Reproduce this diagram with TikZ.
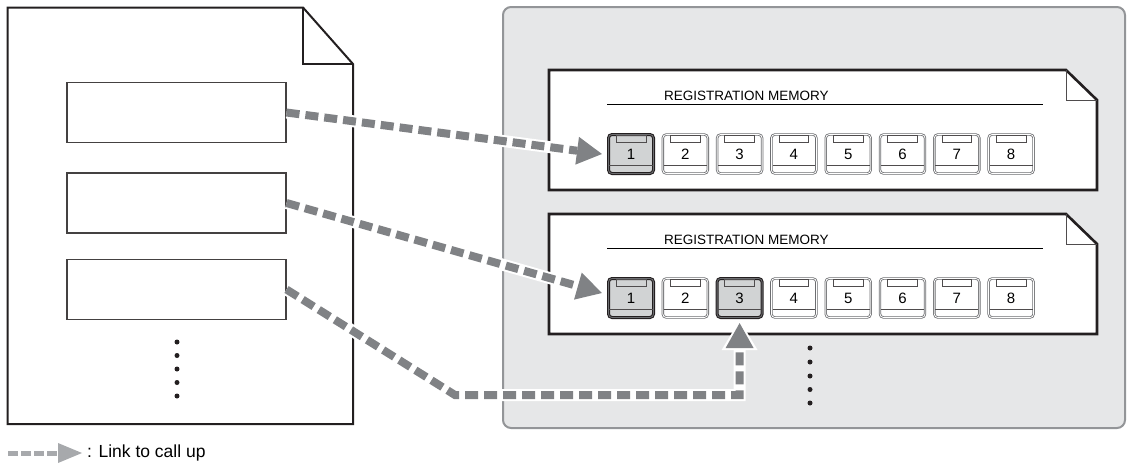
\documentclass[tikz,border=0pt]{standalone}
\usepackage{fontspec}
\setmainfont{Liberation Sans}
\usetikzlibrary{arrows.meta}

\definecolor{ink}{HTML}{231F20}
\definecolor{linkgrey}{HTML}{808285}
\definecolor{legendgrey}{HTML}{A7A9AC}
\definecolor{panelfill}{HTML}{E6E7E8}
\definecolor{paneledge}{HTML}{939598}
\definecolor{keyedge}{HTML}{6D6E71}
\definecolor{keylit}{HTML}{D1D3D4}

\begin{document}
\begin{tikzpicture}[x=1pt, y=-1pt,
  doc/.style={draw=ink, line width=2pt, line join=miter},
  entry/.style={draw=ink!85, line width=1.1pt, minimum width=219pt, minimum height=60pt, inner sep=0pt},
  memo/.style={draw=ink, fill=white, line width=2.6pt, line join=miter},
  fold/.style={draw=ink!80, line width=1pt},
  regkey/.style={rounded corners=3.5pt, minimum width=45pt, minimum height=39pt, inner sep=0pt, font=\fontsize{15}{15}\selectfont},
  keytab/.style={draw=ink!80, line width=0.8pt},
  calllink/.style={draw=linkgrey, line width=8pt, dash pattern=on 13pt off 6pt, -{Triangle[length=25pt,width=28pt,line width=0pt]}},
  halo/.style={draw=white, line width=12pt, -{Triangle[length=30pt,width=36pt,line width=0pt]}, shorten >=-3pt},
  dotmark/.style={circle, fill=ink, inner sep=0pt, minimum size=5pt}]

  \useasboundingbox (0,0) rectangle (1128,467);

  % registration screen
  \draw[draw=paneledge, fill=panelfill, line width=2pt, rounded corners=8pt] (503,7) rectangle (1125,428);

  % song file on the left
  \draw[doc, fill=white] (7.5,7.5) -- (303,7.5) -- (353,64) -- (353,424) -- (7.5,424) -- cycle;
  \draw[doc, line width=1.2pt] (303,7.5) -- (303,64) -- (353,64);
  \node[entry] (e1) at (176.5,112.5) {};
  \node[entry] (e2) at (176.5,203) {};
  \node[entry] (e3) at (176.5,289.5) {};
  \foreach \y [count=\i] in {342,355.5,369,382.5,396}
    \node[dotmark] (ld\i) at (177,\y) {};

  % the two memory banks
  \foreach \p/\t in {1/70, 2/214} {
    \draw[memo] (549,\t) -- (1066,\t) -- (1097,\t+30) -- (1097,\t+120) -- (549,\t+120) -- cycle;
    \draw[fold] (1066,\t) -- (1066,\t+30) -- (1097,\t+30);
    \node[anchor=base west, inner sep=0pt, font=\fontsize{13.5}{14}\selectfont] (title\p) at (664,\t+30.5) {REGISTRATION MEMORY};
    \draw[line width=1pt] (607,\t+34) -- (1043,\t+34);
    \foreach \k in {1,...,8} {
      \pgfmathtruncatemacro\lit{(\k==1)||(\p==2&&\k==3)}
      \ifnum\lit=1 \def\kfill{keylit}\def\kedge{ink}\def\kmid{keyedge}\def\kw{1.1}
      \else \def\kfill{white}\def\kedge{keyedge}\def\kmid{white}\def\kw{0.8}\fi
      \node[regkey, fill=\kfill, draw=\kedge, line width=\kw pt, double=\kmid, double distance=0.8pt]
        (p\p-\k) at ({631+54.3*(\k-1)},\t+84) {\k};
      \draw[keytab] ([xshift=8pt,yshift=-1.5pt]p\p-\k.north west) rectangle ([xshift=-8pt,yshift=-8pt]p\p-\k.north east);
      \draw[keytab] ([xshift=1.5pt,yshift=9pt]p\p-\k.south west) -- ([xshift=-1.5pt,yshift=9pt]p\p-\k.south east);
    }
  }
  \foreach \y [count=\i] in {348,362,376,389.5,403}
    \node[dotmark] (rd\i) at (810,\y) {};

  % links
  \coordinate (bend1) at (455,395);
  \coordinate (bend2) at (p2-3.south |- bend1);
  \foreach \s in {halo, calllink} {
    \draw[\s] (e1.east) -- ([xshift=-6pt]p1-1.west);
    \draw[\s] (e2.east) -- ([xshift=-6pt,yshift=5pt]p2-1.west);
    \draw[\s] (e3.east) -- (bend1) -- (bend2) -- ([yshift=-5pt]p2-3.south);
  }

  % legend
  \coordinate (lgA) at (8,453);
  \coordinate (lgB) at (82,453);
  \draw[draw=legendgrey, line width=5pt, dash pattern=on 10pt off 3pt, -{Triangle[length=24pt,width=20pt,line width=0pt]}] (lgA) -- (lgB);
  \node[anchor=west, inner sep=0pt, font=\fontsize{17.5}{18}\selectfont] (lgtext) at (87,453) {: Link to call up};
\end{tikzpicture}
\end{document}
